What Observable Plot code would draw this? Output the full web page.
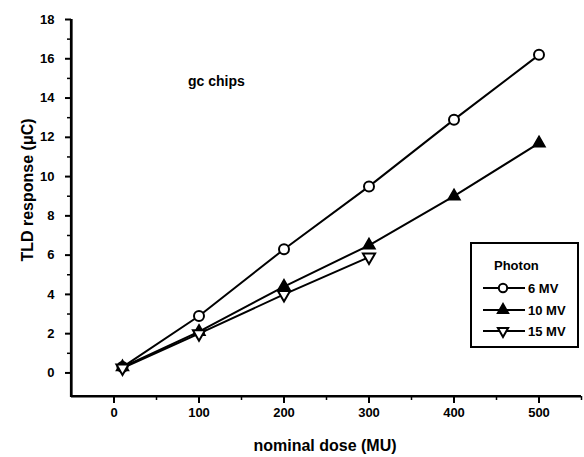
<!DOCTYPE html>
<html>
<head>
<meta charset="utf-8">
<script src="https://cdn.jsdelivr.net/npm/d3@7"></script>
<script src="https://cdn.jsdelivr.net/npm/@observablehq/plot@0.6"></script>
<style>
  html, body { margin: 0; padding: 0; background: #fff; }
  #chart svg { display: block; }
</style>
</head>
<body>
<div id="chart"></div>
<script>
// ---- data ----
const seriesNames = ["6 MV", "10 MV", "15 MV"];
const dose6 = [10, 100, 200, 300, 400, 500];
const resp6 = [0.3, 2.9, 6.3, 9.5, 12.9, 16.2];
const dose10 = [10, 100, 200, 300, 400, 500];
const resp10 = [0.3, 2.1, 4.4, 6.5, 9.0, 11.7];
const dose15 = [10, 100, 200, 300];
const resp15 = [0.25, 2.0, 4.0, 5.9];
const xTicks = [0, 100, 200, 300, 400, 500];
const xMinorTicks = [50, 150, 250, 350, 450, 550];
const yTicks = [0, 2, 4, 6, 8, 10, 12, 14, 16, 18];
const yMinorTicks = [1, 3, 5, 7, 9, 11, 13, 15, 17];
const legendTitle = "Photon";
const annotation = "gc chips";

const rows = [];
dose6.forEach((d, i) => rows.push({series: seriesNames[0], dose: d, resp: resp6[i]}));
dose10.forEach((d, i) => rows.push({series: seriesNames[1], dose: d, resp: resp10[i]}));
dose15.forEach((d, i) => rows.push({series: seriesNames[2], dose: d, resp: resp15[i]}));
const s6 = rows.filter(r => r.series === seriesNames[0]);
const s10 = rows.filter(r => r.series === seriesNames[1]);
const s15 = rows.filter(r => r.series === seriesNames[2]);

const FONT = "'Liberation Sans', Arial, sans-serif";
const W = 584, H = 457, ML = 71, MR = 3, MT = 19, MB = 61;
const X0 = -50, X1 = 550, Y0 = -1.2, Y1 = 18;
const kx = (W - ML - MR) / (X1 - X0);   // px per x unit
const ky = (H - MT - MB) / (Y1 - Y0);   // px per y unit

const plot = Plot.plot({
  width: W,
  height: H,
  marginLeft: ML,
  marginRight: MR,
  marginTop: MT,
  marginBottom: MB,
  style: {fontFamily: FONT, fontWeight: "bold", fontSize: "13px", color: "#000", background: "#fff"},
  x: {domain: [X0, X1], axis: null},
  y: {domain: [Y0, Y1], axis: null},
  marks: [
    Plot.ruleX([X0], {y1: Y0, y2: Y1, stroke: "#000", strokeWidth: 2.2}),
    Plot.ruleY([Y0], {x1: X0, x2: X1, stroke: "#000", strokeWidth: 2.2}),
    // y ticks (major + minor) and labels
    Plot.ruleY(yTicks, {x1: X0 - 6 / kx, x2: X0, stroke: "#000", strokeWidth: 2}),
    Plot.ruleY(yMinorTicks, {x1: X0 - 4 / kx, x2: X0, stroke: "#000", strokeWidth: 1.5}),
    Plot.text(yTicks, {x: X0, y: d => d, dx: -17, textAnchor: "end", fontSize: 13, fontWeight: "bold", fill: "#000"}),
    // x ticks (major + minor) and labels
    Plot.ruleX(xTicks, {y1: Y0, y2: Y0 - 7 / ky, stroke: "#000", strokeWidth: 2}),
    Plot.ruleX(xMinorTicks, {y1: Y0, y2: Y0 - 4 / ky, stroke: "#000", strokeWidth: 1.5}),
    Plot.text(xTicks, {x: d => d, y: Y0, dy: 16, fontSize: 13, fontWeight: "bold", fill: "#000"}),
    // data
    Plot.line(s6, {x: "dose", y: "resp", stroke: "#000", strokeWidth: 2}),
    Plot.line(s10, {x: "dose", y: "resp", stroke: "#000", strokeWidth: 2}),
    Plot.line(s15, {x: "dose", y: "resp", stroke: "#000", strokeWidth: 2}),
    Plot.dot(s6, {x: "dose", y: "resp", symbol: "circle", r: 5, fill: "#fff", stroke: "#000", strokeWidth: 2}),
    Plot.dot(s10, {x: "dose", y: "resp", symbol: "triangle", r: 4.5, fill: "#000", stroke: "#000", strokeWidth: 1.5}),
    Plot.dot(s15, {x: "dose", y: "resp", symbol: "triangle", rotate: 180, r: 4.5, fill: "#fff", stroke: "#000", strokeWidth: 2})
  ]
});

document.getElementById("chart").appendChild(plot);

// ---- axis frame lines (on top), annotation, axis titles, legend ----
const svg = d3.select(plot);
const frameLeft = ML, frameBottom = H - MB, frameRight = W - MR, frameTop = MT;
svg.append("line").attr("x1", frameLeft).attr("x2", frameLeft).attr("y1", frameTop).attr("y2", frameBottom + 1)
  .attr("stroke", "#000").attr("stroke-width", 2.2);
svg.append("line").attr("x1", frameLeft - 1).attr("x2", frameRight).attr("y1", frameBottom).attr("y2", frameBottom)
  .attr("stroke", "#000").attr("stroke-width", 2.2);

svg.append("text")
  .attr("x", 188).attr("y", 86).attr("text-anchor", "start")
  .attr("font-family", FONT).attr("font-size", 14).attr("font-weight", "bold")
  .attr("fill", "#000").text(annotation);

svg.append("text")
  .attr("x", 325).attr("y", 451)
  .attr("text-anchor", "middle")
  .attr("font-family", FONT).attr("font-size", 16).attr("font-weight", "bold")
  .attr("fill", "#000").text("nominal dose (MU)");

svg.append("text")
  .attr("transform", "translate(33,190) rotate(-90)")
  .attr("text-anchor", "middle")
  .attr("font-family", FONT).attr("font-size", 16).attr("font-weight", "bold")
  .attr("fill", "#000").text("TLD response (\u03bcC)");

const lg = svg.append("g");
lg.append("rect").attr("x", 471).attr("y", 243).attr("width", 107).attr("height", 104)
  .attr("fill", "#fff").attr("stroke", "#000").attr("stroke-width", 2);
lg.append("text").attr("x", 494).attr("y", 270).attr("text-anchor", "start")
  .attr("font-family", FONT).attr("font-size", 13).attr("font-weight", "bold").text(legendTitle);
const sym = [d3.symbolCircle, d3.symbolTriangle, d3.symbolTriangle];
const fills = ["#fff", "#000", "#fff"];
const rots = [0, 0, 180];
const rowY = [288, 310, 331];
seriesNames.forEach((name, i) => {
  const y = rowY[i];
  lg.append("line").attr("x1", 483).attr("x2", 525).attr("y1", y).attr("y2", y)
    .attr("stroke", "#000").attr("stroke-width", 2);
  lg.append("path").attr("d", d3.symbol(sym[i], i === 0 ? 55 : 45)())
    .attr("transform", `translate(503,${y}) rotate(${rots[i]})`)
    .attr("fill", fills[i]).attr("stroke", "#000").attr("stroke-width", 2);
  lg.append("text").attr("x", 528).attr("y", y + 5).attr("text-anchor", "start")
    .attr("font-family", FONT).attr("font-size", 13).attr("font-weight", "bold").text(name);
});
</script>
</body>
</html>
